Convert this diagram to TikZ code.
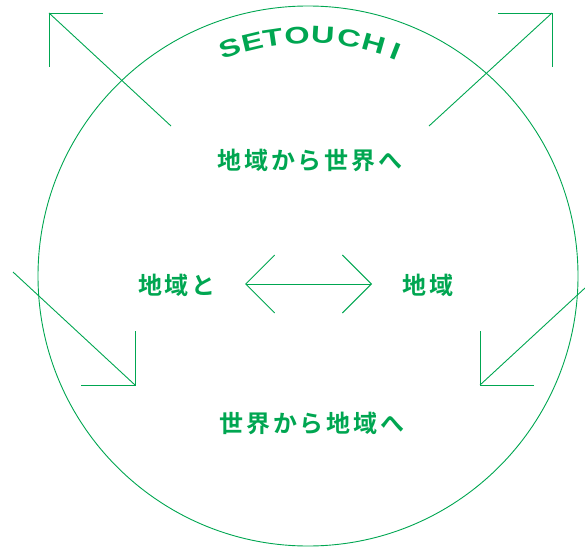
\documentclass[tikz,border=0pt]{standalone}
\usepackage{graphicx}
\usepackage{fontspec}
\setmainfont{Liberation Sans}
\newfontfamily\jpfont[LetterSpace=12]{Noto Sans CJK JP Bold}
\usetikzlibrary{arrows.meta,calc}
\definecolor{setogreen}{RGB}{0,166,81}

\tikzset{
  ring/.style={draw=setogreen, line width=0.9pt},
  arrowline/.style={draw=setogreen, line width=0.9pt},
  twoway/.style={setogreen, line width=0.9pt, {Straight Barb[length=29pt,width=58pt]}-{Straight Barb[length=29pt,width=58pt]}},
  logo/.style={text=setogreen, font=\bfseries\fontsize{24}{27}\selectfont, inner sep=0pt},
  jplabel/.style={text=setogreen, font=\jpfont\fontsize{24}{28}\selectfont, inner sep=0pt}
}

\begin{document}
\begin{tikzpicture}[x=1pt,y=1pt]
  \useasboundingbox (0,0) rectangle (585,547);
  % big circle
  \coordinate (c) at (308,271);
  \draw[ring] (c) circle[radius=270pt];
  % curved title
  \foreach \ch/\ang in {S/108.8,E/103.4,T/98.4,O/92.6,U/86.5,C/80.2,H/74.1,I/68.6}
    \node[logo, rotate=\ang-90] (l\ch) at ($(c)+(\ang:241)$) {\scalebox{1.35}[1]{\ch}};
  % texts
  \node[jplabel] (toWorld) at (310,387) {地域から世界へ};
  \node[jplabel] (regionA) at (177,262) {地域と};
  \node[jplabel] (regionB) at (428,262) {地域};
  \node[jplabel] (toRegion) at (312,124) {世界から地域へ};
  % corner arrows
  \coordinate (tl-tail) at (171,421); \coordinate (tl-tip) at (49,534);
  \coordinate (tr-tail) at (429,421); \coordinate (tr-tip) at (552,534);
  \coordinate (bl-tail) at (13,275);  \coordinate (bl-tip) at (135,162);
  \coordinate (br-tail) at (585,259); \coordinate (br-tip) at (480,162);
  \foreach \a/\hx/\vy in {tl/1/-1, tr/-1/-1, bl/-1/1, br/1/1}{
    \draw[arrowline] (\a-tail) -- (\a-tip);
    \draw[arrowline] ($(\a-tip)+(\hx*54,0)$) -- (\a-tip) -- ($(\a-tip)+(0,\vy*54)$);
  }
  % middle arrow
  \coordinate (midL) at (245,263); \coordinate (midR) at (372,263);
  \draw[twoway] (midL) -- (midR);
\end{tikzpicture}
\end{document}
